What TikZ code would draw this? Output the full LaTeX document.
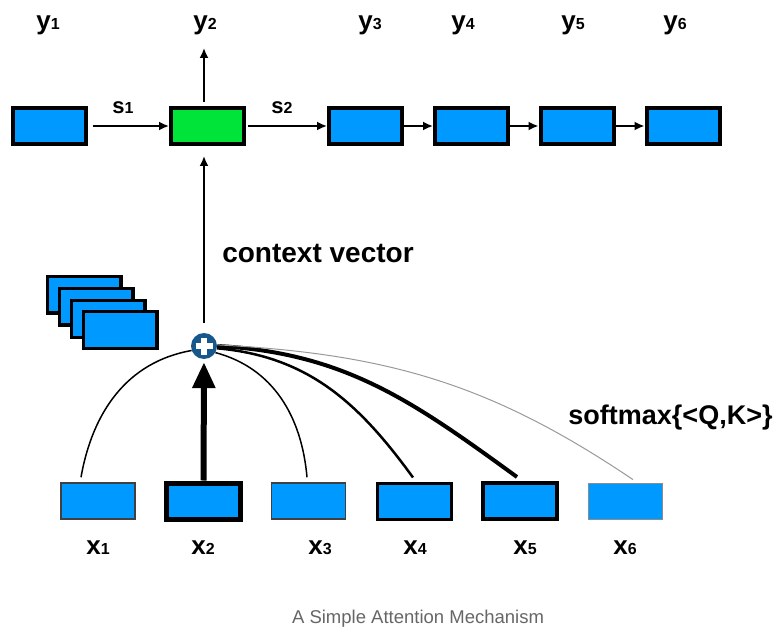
\documentclass[tikz,border=0pt]{standalone}
\usepackage{fontspec}
\setmainfont{Liberation Sans}
\usepackage{xcolor}
\definecolor{bl}{RGB}{0,153,255}
\definecolor{gr}{RGB}{0,228,58}
\definecolor{db}{RGB}{22,88,140}
\usepackage{tikz}
\usetikzlibrary{arrows.meta, positioning, calc}

\newcommand{\lbl}[3]{{\fontsize{#1}{#1}\selectfont\bfseries #2}{\fontsize{16}{16}\selectfont\bfseries #3}}

\begin{document}
\begin{tikzpicture}[
    x=1pt, y=1pt,
    cell/.style={draw, fill=bl, minimum width=73pt, minimum height=36pt, line width=4pt, inner sep=0pt},
    inp/.style={draw, fill=bl, minimum width=74pt, minimum height=36pt, inner sep=0pt},
    arr/.style={line width=1.8pt, -{Latex[length=10pt, width=9pt]}},
    sum/.style={circle, fill=db, minimum size=26pt, inner sep=0pt,
        path picture={\draw[white, line width=6pt]
            (path picture bounding box.center) ++(-8.5pt,0) -- ++(17pt,0)
            (path picture bounding box.center) ++(0,-8.5pt) -- ++(0,17pt);}}
    ]
    \useasboundingbox (0,0) rectangle (778,627);

    % decoder row
    \foreach \n/\x in {1/49, 3/365.5, 4/471.5, 5/577, 6/683}
        \node[cell] (h\n) at (\x,501) {};
    \node[cell, fill=gr] (h2) at (207.5,501) {};
    \draw[arr, shorten <=5pt] (h1) -- (h2);
    \draw[arr, shorten <=2pt] (h2) -- (h3);
    \foreach \a/\b in {3/4, 4/5, 5/6}
        \draw[arr] (h\a) -- (h\b);
    \node (s1) at (123,519) {\lbl{22}{s}{1}};
    \node (s2) at (282,519) {\lbl{22}{s}{2}};
    \foreach \n/\x in {1/48, 2/205, 3/370, 4/463, 5/573, 6/675}
        \node (y\n) at (\x,602) {\lbl{26}{y}{\n}};

    % sum of the weighted inputs
    \node[sum] (plus) at (204,281) {};
    \coordinate (y2out) at (204,579);
    \draw[arr, shorten <=4pt] (h2.north -| plus) -- (y2out);
    \draw[arr, shorten <=10pt, shorten >=10pt] (plus) -- (plus |- h2.south);
    \node (ctx) at (318,373) {\fontsize{28}{28}\selectfont\bfseries context vector};

    % stacked states
    \foreach \n/\x/\y in {1/84/332, 2/96/320, 3/108/308, 4/120/297}
        \node[cell, line width=3.5pt, minimum width=73.5pt, minimum height=36.5pt] (st\n) at (\x,\y) {};

    % encoder inputs
    \foreach \n/\x/\w/\c in {1/98/1.5/black!75, 2/203.5/5/black, 3/308.5/1.5/black!75,
                             4/414.5/3/black, 5/520/4/black, 6/625.5/0.8/black!45}
        \node[inp, line width=\w pt, draw=\c] (x\n) at (\x,126) {};
    \foreach \n/\x in {1/98, 2/203, 3/320, 4/415, 5/525, 6/625}
        \node (xl\n) at (\x,79) {\lbl{26}{x}{\n}};

    \draw[line width=6pt, -{Triangle[length=26pt, width=22pt]}, shorten >=3pt] (x2) -- (plus);
    \draw[line width=1.5pt] (plus.200) to[out=190, in=80] ([xshift=-17pt, yshift=5pt]x1.north);
    \draw[line width=1.5pt] (plus.-30) to[out=-15, in=95] ([xshift=-1.5pt, yshift=5pt]x3.north);
    \draw[line width=2.5pt] (plus.-10) to[out=-5, in=126] ([xshift=-1.5pt, yshift=4pt]x4.north);
    \draw[line width=4pt] (plus.0) to[out=-3, in=144] ([xshift=-3pt, yshift=4pt]x5.north);
    \draw[line width=1pt, black!40] (plus.5) to[out=-3, in=146] ([xshift=7.5pt, yshift=3pt]x6.north);
    \node (sm) at (670.5,209) {\fontsize{27}{27}\selectfont\bfseries softmax\{<Q,K>\}};

    \node[anchor=base, text=black!60] (cap) at (418,4) {\fontsize{18.5}{18.5}\selectfont A Simple Attention Mechanism};
\end{tikzpicture}
\end{document}
